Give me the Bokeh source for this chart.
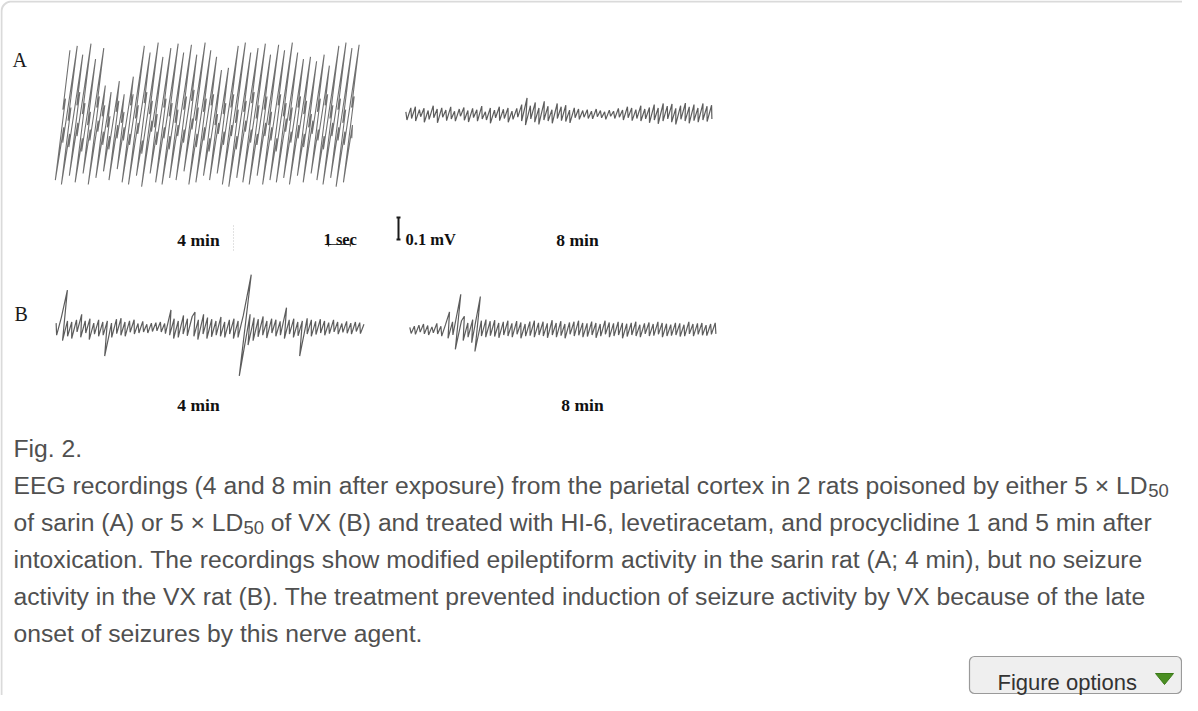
import numpy as np
from bokeh.plotting import figure
from bokeh.models import Range1d
from bokeh.core.properties import value
from bokeh.embed import file_html
from bokeh.resources import INLINE

# ---------------- data: EEG amplitudes in microvolts ----------------
# A, 4 min (sarin rat): seizure discharges; each cycle = peak, mid, mid, trough, mid, mid
A4_UV = [
    310, 40, 90, -280, -40, -110, 330, -10, 50, -300, -70, -130,
    290, 60, 120, -260, -20, -80, 340, 20, 70, -290, -90, -150,
    270, -30, 30, -250, -50, -100, 320, 50, 100, -300, -10, -60,
    150, 10, 60, -270, -60, -120, 120, -40, 10, -240, -80, -140,
    170, 30, 80, -280, -30, -90, 110, -20, 30, -230, -40, -100,
    190, 60, 110, -290, -70, -120, 330, 0, 60, -300, -20, -70,
    300, 70, 120, -260, -100, -160, 345, 20, 80, -310, -10, -60,
    280, -40, 20, -250, -60, -120, 320, 50, 90, -290, -40, -90,
    340, 10, 70, -300, -80, -140, 300, -20, 40, -270, -30, -80,
    335, 40, 100, -280, -50, -110, 290, 80, 130, -240, 0, -50,
    345, -10, 50, -300, -70, -130, 310, 30, 90, -290, -40, -100,
    280, 60, 110, -260, -90, -150, 220, -30, 20, -280, -20, -70,
    230, 20, 70, -250, -60, -120, 330, 50, 110, -300, -30, -80,
    345, -20, 40, -310, -80, -140, 300, 30, 80, -270, -10, -60,
    320, 70, 120, -290, -50, -110, 340, 0, 60, -300, -70, -120,
    290, 40, 100, -260, -20, -80, 335, -30, 30, -300, -40, -100,
    310, 60, 110, -280, -90, -150, 345, 10, 70, -290, 0, -60,
    300, -10, 50, -270, -60, -110, 270, 50, 100, -300, -30, -90,
    280, 20, 80, -260, -70, -130, 260, -40, 20, -290, -10, -70,
    290, 30, 90, -250, -50, -100, 240, 60, 110, -280, -80, -140,
    330, 0, 60, -300, -20, -80, 345, 40, 90, -270, -40, -100,
    320, -20, 40, -310, -60, -120, 335, 50, 100, -290, -30, -90,
]
# A, 8 min
A8_UV = [
    12, -25, 30, -18, 35, -30, 22, -10, 28, -35, 18, -22, 40, -15, 25, -38, 30, -12, 20, -28,
    35, -20, 15, -30, 25, -8, 32, -26, 18, -34, 28, -14, 22, -30, 38, -20, 12, -25, 30, -40,
    20, -15, 35, -28, 24, -18, 30, -35, 15, -22, 28, -12, 45, -30, 75, -48, 40, -20, 55, -35,
    30, -45, 60, -25, 38, -30, 22, -40, 50, -18, 35, -28, 42, -32, 20, -38, 30, -15, 25, -22,
    18, -12, 22, -18, 15, -20, 25, -10, 18, -15, 12, -22, 20, -8, 15, -18, 28, -12, 20, -25,
    35, -15, 30, -28, 22, -18, 40, -30, 25, -20, 32, -38, 45, -25, 30, -42, 50, -30, 38, -20,
    48, -35, 28, -45, 40, -22, 52, -30, 35, -40, 45, -28, 30, -35, 50, -25, 38, -32, 42, -20,
]
# B, 4 min (VX rat)
B4_UV = [
    20, -35, 45, 170, -60, 30, -40, 25, -50, 35, -20, 60, -45, 30, -25, 40, -55, 20, -30, 35,
    -40, 25, -35, 30, -130, 20, -45, 38, -28, 42, -35, 25, -40, 30, -22, 35, -30, 18, -25, 28,
    -20, 15, -25, 20, -18, 22, -15, 25, -20, 18, -28, 80, -35, 40, -50, 30, -45, 55, -30, 40,
    -38, 50, 70, -40, 35, -55, 60, -30, 45, -50, 38, -42, 30, -35, 48, -40, 25, -45, 35, -30,
    40, -50, 30, -45, 55, 240, -220, 60, -80, 45, -60, 38, -42, 50, -35, 30, -48, 40, -25, 35,
    -40, 28, -35, 90, -50, 35, -30, 40, -45, 25, -38, 30, -130, 42, -30, 35, -40, 28, -32, 38,
    -25, 30, -35, 22, -28, 35, -20, 25, -30, 18, -22, 28, -26, 20, -30, 25, -18, 22, -28, 15,
]
# B, 8 min
B8_UV = [
    10, -18, 15, -22, 20, -12, 25, -20, 18, -25, 12, -15, 28, -20, 15, -30, 22, 80, -40, 35,
    -25, 160, -90, 40, 60, -50, 30, -35, 45, -60, 150, -100, 40, -30, 45, -35, 38, -28, 42, -32,
    30, -38, 35, -25, 40, -30, 28, -35, 38, -22, 32, -40, 25, -30, 36, -28, 40, -35, 30, -25,
    35, -30, 28, -38, 42, -25, 30, -35, 38, -28, 25, -40, 32, -22, 35, -30, 40, -26, 30, -35,
    28, -32, 36, -25, 30, -38, 25, -30, 40, -22, 32, -35, 28, -30, 35, -25, 30, -40, 26, -32,
    30, -25, 35, -30, 22, -35, 28, -20, 32, -30, 25, -28, 35, -22, 30, -35, 26, -30, 22, -28,
    30, -25, 28, -32, 22, -30, 35, -20, 25, -30, 28, -22, 30, -26, 20, -28, 25, -22, 30, -20,
]
DURATIONS_S = {"a4": 13.5, "a8": 14.0, "b4": 14.0, "b8": 14.0}
SCALE_BAR_TIME_S = 1.0
SCALE_BAR_UV = 100.0

PANEL_LETTERS = ["A", "B"]
TIME_LABELS = ["4 min", "8 min", "4 min", "8 min"]
SCALE_LABELS = ["1 sec", "0.1 mV"]

FIG_LABEL = "Fig. 2."
CAPTION_LINES = [
    ["EEG recordings (4 and 8 min after exposure) from the parietal cortex in 2 rats poisoned by either 5 × LD", "50"],
    ["of sarin (A) or 5 × LD", "50", "of VX (B) and treated with HI-6, levetiracetam, and procyclidine 1 and 5 min after"],
    ["intoxication. The recordings show modified epileptiform activity in the sarin rat (A; 4 min), but no seizure"],
    ["activity in the VX rat (B). The treatment prevented induction of seizure activity by VX because of the late"],
    ["onset of seizures by this nerve agent."],
]
BUTTON_TEXT = "Figure options"

# ---------------- layout (page pixels; the figure sits at page offset 8,8) ----------------
W, H = 1182, 695
OFF = 8
UV_PX = 0.22           # px per microvolt
PEN_ARC = 0.0014       # s per microvolt: pen-arc slant of the chart recorder

PANELS = {  # x start, x end, y of baseline (page px)
    "a4": (68, 362, 126),
    "a8": (413, 720, 122),
    "b4": (63, 371, 335),
    "b8": (417, 724, 337),
}
DATA = {"a4": A4_UV, "a8": A8_UV, "b4": B4_UV, "b8": B8_UV}

p = figure(width=W, height=H, x_range=Range1d(0, W), y_range=Range1d(H, 0),
           output_backend="svg", toolbar_location=None, min_border=0,
           x_axis_location=None, y_axis_location=None)
p.grid.visible = False
p.outline_line_color = None
p.background_fill_color = "white"
p.border_fill_color = "white"

def px_per_s(k):
    x0, x1, _ = PANELS[k]
    return (x1 - x0) / DURATIONS_S[k]

for k, (x0, x1, yc) in PANELS.items():
    pps = px_per_s(k)
    x0f = x0 - OFF
    ycf = yc - OFF
    p.extra_x_ranges[k] = Range1d(-x0f / pps, (W - x0f) / pps)
    p.extra_y_ranges[k] = Range1d((ycf - H) / UV_PX, ycf / UV_PX)

def t_at(k, xpage):
    return (xpage - PANELS[k][0]) / px_per_s(k)

def v_at(k, ypage):
    return (PANELS[k][2] - ypage) / UV_PX

def fx(xpage):
    return xpage - OFF

def fy(ypage):
    return ypage - OFF

# outer box border (top + left, rounded corner)
ang = np.linspace(np.pi, 1.5 * np.pi, 12)
r = 10
bx = np.concatenate([[1], 1 + r + r * np.cos(ang), [W]])
by = np.concatenate([[H], 1 + r + r * np.sin(ang), [1]])
p.line(bx, by, line_color="#dadada", line_width=2)

# traces
for k, vals in DATA.items():
    v = np.array(vals, dtype=float)
    t = np.linspace(0, DURATIONS_S[k], len(v)) + PEN_ARC * v
    if k == "a4":
        p.line(t, v, x_range_name=k, y_range_name=k, line_color="#333333",
               line_width=1.1, line_alpha=0.7)
    else:
        p.line(t, v, x_range_name=k, y_range_name=k, line_color="#333333",
               line_width=1.2, line_alpha=0.8)

# time scale bar (1 sec) in the A 4-min time scale
ts = t_at("a4", 336)
vy = v_at("a4", 252)
tick = 2 / UV_PX
p.segment(x0=[ts, ts, ts + SCALE_BAR_TIME_S], y0=[vy, vy - tick, vy - tick],
          x1=[ts + SCALE_BAR_TIME_S, ts, ts + SCALE_BAR_TIME_S], y1=[vy, vy + tick, vy + tick],
          x_range_name="a4", y_range_name="a4", line_color="#444", line_width=1.2)

# voltage scale bar (0.1 mV) in the A 8-min amplitude scale
tv = t_at("a8", 406)
vb = v_at("a8", 247)
half = 2 / px_per_s("a8")
p.segment(x0=[tv, tv - half, tv - half], y0=[vb, vb, vb + SCALE_BAR_UV],
          x1=[tv, tv + half, tv + half], y1=[vb + SCALE_BAR_UV, vb, vb + SCALE_BAR_UV],
          x_range_name="a8", y_range_name="a8", line_color="#1a1a1a", line_width=2)

# faint scan artefact (dotted line) between labels
p.line([fx(241), fx(241)], [fy(233), fy(258)], line_color="#c4c4c4",
       line_dash="1 2", line_width=1)

serif = value("Liberation Serif")
p.text(x=[fx(20), fx(22)], y=[fy(67), fy(321)], text=PANEL_LETTERS,
       text_font=serif, text_font_size="20px", text_color="#1a1a1a",
       text_baseline="alphabetic", text_align="left")
p.text(x=[fx(206), fx(585), fx(206), fx(590)], y=[fy(247), fy(247), fy(412), fy(412)],
       text=TIME_LABELS, text_font=serif, text_font_style="bold", text_font_size="17.5px",
       text_color="#111", text_baseline="alphabetic", text_align="center")
p.text(x=[fx(331), fx(413)], y=[fy(247), fy(247)], text=SCALE_LABELS,
       text_font=serif, text_font_style="bold", text_font_size="16.5px",
       text_color="#111", text_baseline="alphabetic", text_align="left")

# caption
sans = value("Liberation Sans")
FS = 24.7
SUB = 18.5
CAP_COLOR = "#505050"
p.text(x=[fx(21)], y=[fy(456)], text=[FIG_LABEL], text_font=sans,
       text_font_size=f"{FS}px", text_color=CAP_COLOR, text_baseline="alphabetic")
baselines = [493, 530, 567, 604, 641]
# x positions of the pieces (from the Arial/Liberation advance widths, em units)
piece_x = [
    [21, 21 + 45.937 * FS],
    [21, 21 + 9.309 * FS, 21 + 9.309 * FS + 1.112 * SUB + 0.278 * FS],
    [21], [21], [21],
]
for line, xs, yb in zip(CAPTION_LINES, piece_x, baselines):
    for txt, xx in zip(line, xs):
        is_sub = txt == "50"
        p.text(x=[fx(xx)], y=[fy(yb + (5 if is_sub else 0))], text=[txt],
               text_font=sans, text_font_size=f"{SUB if is_sub else FS}px",
               text_color=CAP_COLOR, text_baseline="alphabetic", text_align="left")

# "Figure options" button
p.quad(left=[fx(977)], right=[fx(1189)], top=[fy(664)], bottom=[fy(701)],
       fill_color="#efefef", line_color="#9a9a9a", line_width=1.2, border_radius=5)
p.text(x=[fx(1005)], y=[fy(690)], text=[BUTTON_TEXT], text_font=sans,
       text_font_size="22px", text_color="#333333", text_baseline="alphabetic")
p.patch([fx(1163), fx(1181), fx(1172)], [fy(681), fy(681), fy(692)],
        fill_color="#4a8e22", line_color="#3b7a18", line_width=1)

open("out.html", "w").write(file_html(p, INLINE))
